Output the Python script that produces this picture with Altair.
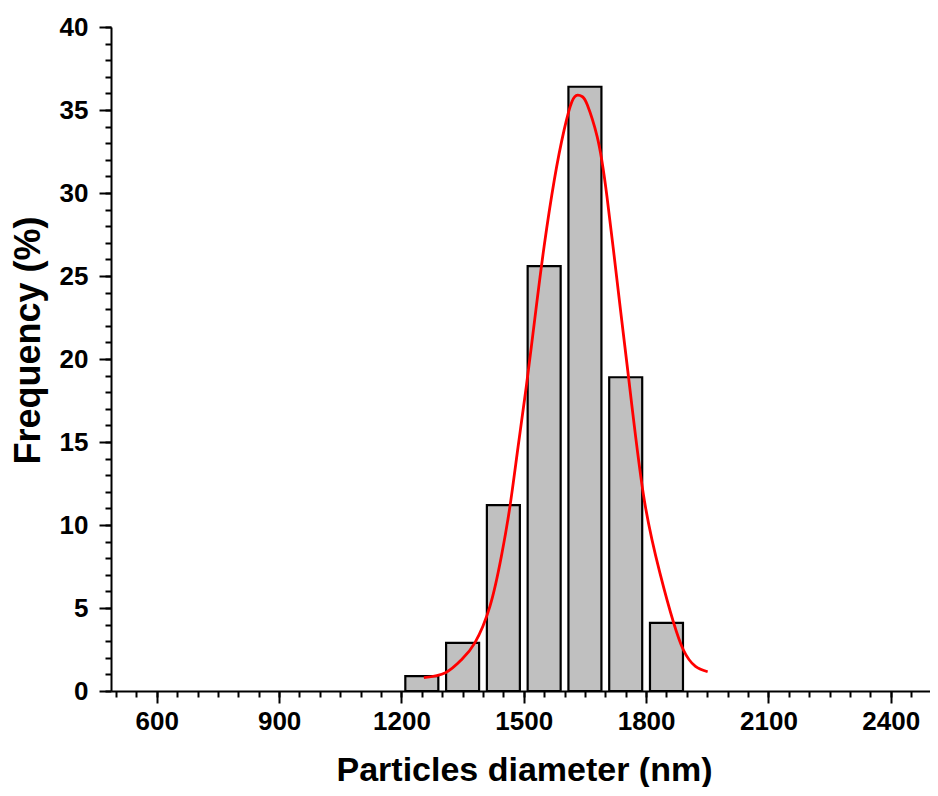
import altair as alt
import pandas as pd

# Histogram data (bin centers in nm, frequency in %)
bin_centers = [1250, 1350, 1450, 1550, 1650, 1750, 1850]
frequency = [0.9, 2.9, 11.2, 25.6, 36.4, 18.9, 4.1]

# Gaussian fit curve
fit_x = [1255, 1308, 1348, 1380, 1417, 1445, 1466, 1486, 1506, 1530, 1550, 1575,
         1599, 1618, 1632, 1644, 1656, 1680, 1704, 1737, 1757, 1793, 1834, 1891, 1951]
fit_y = [0.8, 1.1, 1.9, 2.9, 5.1, 8.1, 11.1, 14.7, 18.3, 23.0, 26.8, 30.8,
         33.8, 35.5, 35.9, 35.8, 35.3, 33.4, 29.8, 23.0, 18.9, 11.9, 7.1, 2.5, 1.16]

x_major = [600, 900, 1200, 1500, 1800, 2100, 2400]
x_minor = list(range(500, 2481, 50))
y_major = [0, 5, 10, 15, 20, 25, 30, 35, 40]
y_minor = list(range(0, 41, 1))

bars_df = pd.DataFrame({"d": bin_centers, "f": frequency})
fit_df = pd.DataFrame({"d": fit_x, "f": fit_y})

FONT = "Liberation Sans"
xscale = alt.Scale(domain=[500, 2484], nice=False, zero=False)
yscale = alt.Scale(domain=[0, 40], nice=False, zero=True)

common_axis = dict(
    labelFont=FONT, labelFontWeight="bold", labelFontSize=26, labelColor="black",
    titleFont=FONT, titleFontWeight="bold", titleColor="black",
    tickColor="black", tickWidth=2, domainColor="black", domainWidth=2,
    grid=False, labelFlush=False, labelOverlap=False, format="d",
)

bars = alt.Chart(bars_df).mark_bar(
    size=33, fill="#c0c0c0", stroke="black", strokeWidth=2.2
).encode(
    x=alt.X("d:Q", scale=xscale,
            axis=alt.Axis(values=x_major, tickSize=12, labelPadding=5,
                          title="Particles diameter (nm)", titleFontSize=34,
                          titlePadding=19, titleX=413,
                          orient="bottom", **common_axis)),
    y=alt.Y("f:Q", scale=yscale,
            axis=alt.Axis(values=y_major, tickSize=12, labelPadding=11,
                          title="Frequency (%)", titleFontSize=36,
                          titlePadding=12, titleY=313,
                          orient="left", **common_axis)),
)

minor_axis = dict(tickColor="black", tickWidth=2, domain=False, labels=False,
                  grid=False, title=None)

line = alt.Chart(fit_df).mark_line(
    color="#ff0000", strokeWidth=2.8, interpolate="natural"
).encode(
    x=alt.X("d:Q", scale=xscale,
            axis=alt.Axis(values=x_minor, tickSize=6, orient="bottom", **minor_axis)),
    y=alt.Y("f:Q", scale=yscale,
            axis=alt.Axis(values=y_minor, tickSize=6, orient="left", **minor_axis)),
)

chart = alt.layer(bars, line).resolve_axis(
    x="independent", y="independent"
).properties(
    width=819, height=664,
    autosize=alt.AutoSizeParams(type="none"),
    padding={"left": 103, "top": 19, "right": 0, "bottom": 96},
).configure_view(stroke=None)

chart.save("out.html", embed_options={"renderer": "svg", "actions": False})
